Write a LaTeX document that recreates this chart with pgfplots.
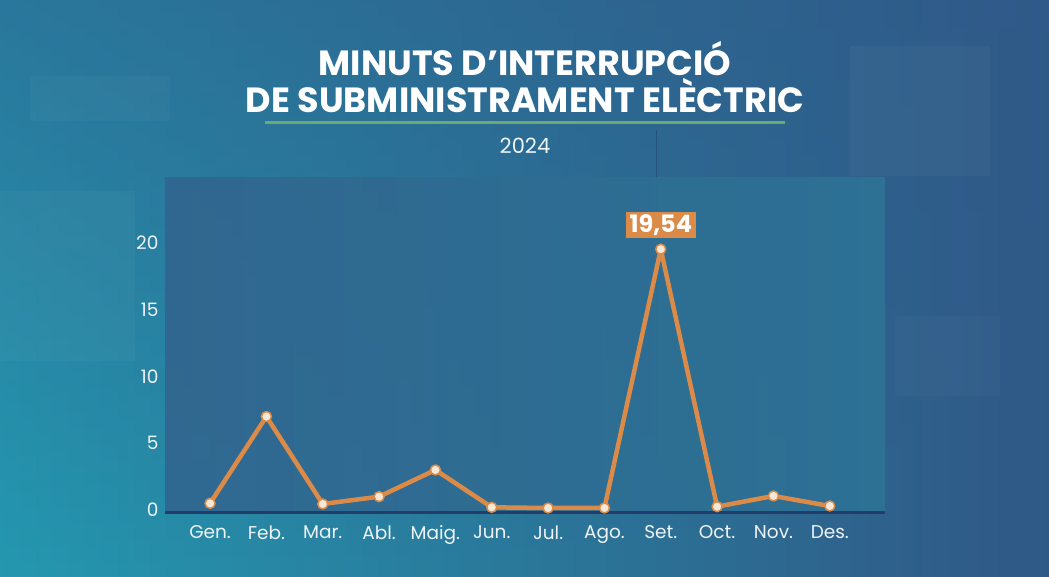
\documentclass[border=0pt]{standalone}
\usepackage{pgfplots}
\pgfplotsset{compat=1.18}
\usetikzlibrary{fadings}
\usepackage{fontspec}
\setmainfont{Poppins}
\definecolor{bgA}{HTML}{2499B0}
\definecolor{bgB}{HTML}{2D6F97}
\definecolor{bgC}{HTML}{305886}
\definecolor{bgTop}{HTML}{2F5A8A}
\definecolor{panelL}{HTML}{31658F}
\definecolor{panelR}{HTML}{2D7396}
\definecolor{lineor}{HTML}{DB8A48}
\definecolor{markfill}{HTML}{F4E8D8}
\definecolor{navyline}{HTML}{223D6A}
\definecolor{greenline}{HTML}{6BAA72}
\definecolor{txt}{HTML}{EEF3F6}
\begin{document}
\begin{tikzpicture}[x=1pt,y=1pt]
\useasboundingbox (0,0) rectangle (1049,576);
\begin{scope}
\clip (0,0) rectangle (1049,576);
\shade[left color=bgA, middle color=bgB, right color=bgC] (-5,-5) rectangle (1054,581);
\fill[bgTop, opacity=0.55, path fading=south] (-5,-5) rectangle (1054,600);
% decorative translucent squares
\fill[white, opacity=0.03] (0,215) rectangle (135,385);
\fill[white, opacity=0.025] (30,455) rectangle (170,500);
\fill[white, opacity=0.03] (850,400) rectangle (990,530);
\fill[white, opacity=0.025] (895,180) rectangle (1000,260);
\end{scope}
\draw[navyline, opacity=0.5, line width=1pt] (656,446) -- (656,116);
% title
\node[font=\fontsize{35}{38}\selectfont\bfseries, text=white] at (525,517) {MINUTS D'INTERRUPCIÓ};
\node[font=\fontsize{35}{38}\selectfont\bfseries, text=white] at (525,480) {DE SUBMINISTRAMENT ELÈCTRIC};
\draw[greenline, line width=3pt] (265,453) -- (785,453);
\node[font=\fontsize{21}{24}\selectfont, text=txt] at (525,430) {2024};
\begin{axis}[
  at={(165pt,64pt)}, anchor=south west,
  width=720pt, height=334pt, scale only axis,
  xmin=-0.8, xmax=11.98, ymin=-0.15, ymax=24.87,
  axis line style={draw=none},
  axis background/.style={shade, left color=panelL, right color=panelR, opacity=0.9},
  major tick length=0pt,
  xtick={0,...,11},
  xticklabels={Gen.,Feb.,Mar.,Abl.,Maig.,Jun.,Jul.,Ago.,Set.,Oct.,Nov.,Des.},
  ytick={0,5,10,15,20},
  /pgf/number format/assume math mode=true,
  tick label style={font=\fontsize{18.5}{20}\selectfont, text=txt},
  yticklabel style={xshift=-3pt},
  xticklabel style={yshift=-10pt},
  clip=false,
]
\draw[navyline, line width=3pt] (axis cs:-0.8,-0.15) -- (axis cs:11.98,-0.15);
\addplot[lineor, line width=4.5pt, line join=round, mark=*, mark size=5pt,
  mark options={fill=markfill, draw=lineor, line width=1.5pt}]
coordinates {(0,0.5) (1,7.0) (2,0.45) (3,1.0) (4,3.0) (5,0.2) (6,0.15) (7,0.15) (8,19.54) (9,0.25) (10,1.05) (11,0.3)};
\node[fill=lineor, text=white, font=\fontsize{24}{26}\selectfont\bfseries, inner xsep=4pt, inner ysep=2.5pt] at (axis cs:8,21.35) {19,54};
\end{axis}
\end{tikzpicture}
\end{document}
